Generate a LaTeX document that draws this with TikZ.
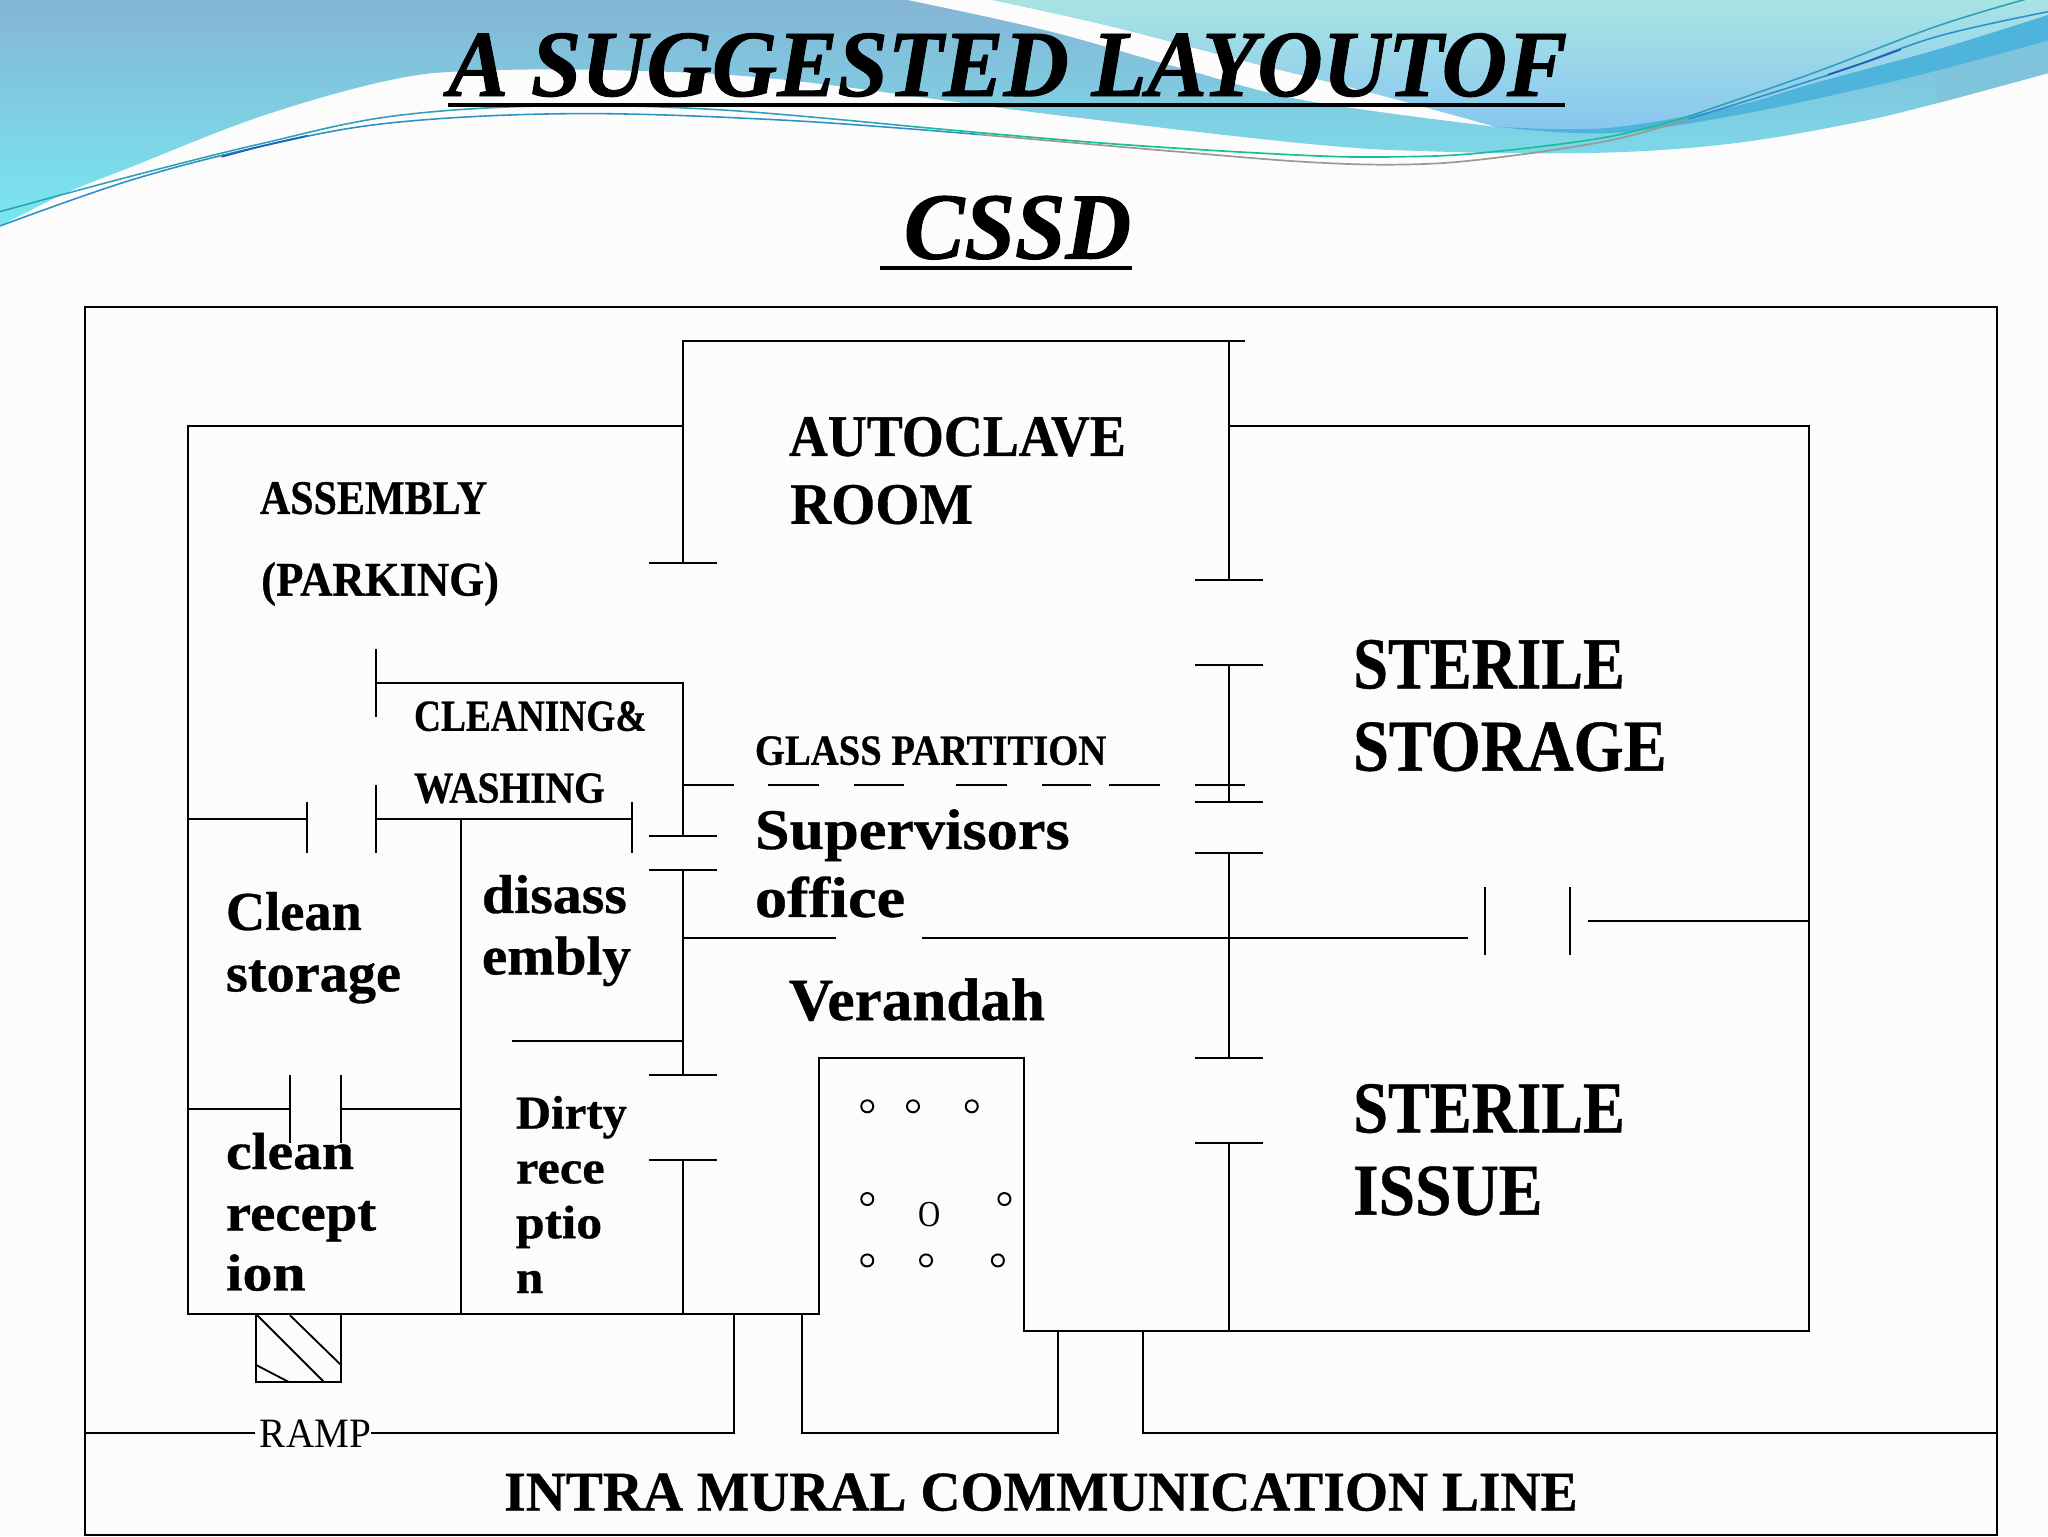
\documentclass[tikz,border=0pt]{standalone}
\usepackage{fontspec}
\usepackage{graphicx}
\setmainfont{Liberation Serif}[BoldFeatures={FakeBold=0.6},BoldItalicFeatures={FakeBold=1.0}]
\newcommand{\fitw}[2]{\resizebox{#1pt}{\height}{#2}}
\tikzset{
  wall/.style={draw=black,line width=1.4pt,line cap=butt},
  lab/.style={anchor=base west,inner sep=0pt,outer sep=0pt,text=black,font=\bfseries\fontsize{#1}{#1}\selectfont},
  plainlab/.style={anchor=base west,inner sep=0pt,outer sep=0pt,text=black,font=\fontsize{#1}{#1}\selectfont},
  ttl/.style={anchor=base west,inner sep=0pt,outer sep=0pt,text=black,font=\bfseries\itshape\fontsize{72.5}{72.5}\selectfont},
  hole/.style={draw=black,line width=1.5pt,fill=none},
  wire/.style={line width=#1,fill=none,line cap=round}
}
\definecolor{paper}{HTML}{FCFCFC}
\definecolor{wavetop}{HTML}{85B5D5}
\definecolor{wavemid}{HTML}{68C4DC}
\definecolor{wavelow}{HTML}{78E8F0}
\definecolor{bluetop}{HTML}{A8E4E4}
\definecolor{bluelow}{HTML}{88C6F0}
\definecolor{under}{HTML}{78D4E4}
\definecolor{underend}{HTML}{7FC4DA}
\definecolor{bandc}{HTML}{4FB4DC}
\definecolor{wireteal}{HTML}{2FA0B8}
\definecolor{wiregreen}{HTML}{18C09A}
\definecolor{wireblue}{HTML}{2F8FC8}
\definecolor{wiredark}{HTML}{1F60B8}
\definecolor{wiregray}{HTML}{9A9A9A}
\begin{document}
\begin{tikzpicture}[x=1pt,y=-1pt]
\useasboundingbox (0,0) rectangle (1568,1176);
\fill[paper] (0,0) rectangle (1568,1176);
% wave, left body
\shade[top color=wavetop,middle color=wavemid,bottom color=wavelow]
  (0,0) -- (0,173) -- plot[smooth,tension=0.6] coordinates {(0,173) (50,148) (100,128) (200,89) (300,61) (370,54) (480,54) (600,61) (800,87) (1000,110) (1100,116) (1224,117) (1325,110) (1420,94) (1483,79) (1568,56)} -- (1568,0) -- cycle;
% white strip
\fill[paper] (695,0) -- plot[smooth,tension=0.6] coordinates {(695,0) (800,23) (900,51) (1000,77) (1145,97)} -- plot[smooth,tension=0.6] coordinates {(1145,97) (1050,71) (950,46) (850,20) (760,0)} -- cycle;
% right body
\shade[top color=bluetop,bottom color=bluelow]
  (760,0) -- plot[smooth,tension=0.6] coordinates {(760,0) (850,20) (950,46) (1050,71) (1145,97)} -- plot[smooth,tension=0.6] coordinates {(1145,97) (1230,98) (1325,82) (1388,64) (1483,38) (1568,11.5)} -- (1568,0) -- cycle;
% under band, right end
\fill[underend] (1568,31) -- (1483,54) -- (1483,79) -- (1568,56) -- cycle;
% band
\fill[bandc] plot[smooth,tension=0.6] coordinates {(1145,97) (1230,98) (1325,82) (1388,64) (1483,38) (1568,11.5)} -- plot[smooth,tension=0.6] coordinates {(1568,31) (1483,54) (1420,69) (1325,89) (1230,102) (1145,97)} -- cycle;
% thin curves
\draw[wire=1.2pt,draw=wireteal] plot[smooth,tension=0.6] coordinates {(0,162) (100,135) (200,110) (300,89) (420,81) (550,84) (700,97)};
\draw[wire=1.3pt,draw=wiregreen] plot[smooth,tension=0.6] coordinates {(700,97) (850,110) (1000,119) (1072,120) (1135,117) (1230,105) (1293,89)};
\draw[wire=1.2pt,draw=wireteal] plot[smooth,tension=0.6] coordinates {(1293,89) (1388,56) (1483,20) (1556,-2)};
\draw[wire=1.2pt,draw=wireblue] plot[smooth,tension=0.6] coordinates {(0,173) (100,138) (200,112) (300,94) (440,87) (600,92) (750,103)};
\draw[wire=1.3pt,draw=wiregray] plot[smooth,tension=0.6] coordinates {(750,103) (900,116) (1000,124) (1072,126) (1135,122) (1230,108) (1293,91)};
\draw[wire=1.2pt,draw=wireblue] plot[smooth,tension=0.6] coordinates {(1293,91) (1404,56) (1483,28) (1568,9)};
\draw[wire=1.3pt,draw=wiredark] plot[smooth,tension=0.6] coordinates {(1400,57) (1430,47) (1455,38)};
\draw[wire=1.3pt,draw=wiredark] plot[smooth,tension=0.6] coordinates {(170,120) (200,112) (235,104)};

% title
\node[ttl] (t1) at (343,73.5) {\fitw{857}{A SUGGESTED LAYOUTOF}};
\fill[black] (343,78.5) rectangle (1198,82);
\node[ttl] (t2) at (692,198) {\fitw{174}{CSSD}};
\fill[black] (674,203.5) rectangle (867,207);

% outer frame
\draw[wall] (65,235) rectangle (1529,1175);
\draw[wall] (65,1097) -- (195,1097);
\draw[wall] (284,1097) -- (562,1097) -- (562,1006);
\draw[wall] (614,1006) -- (614,1097) -- (810,1097) -- (810,1019);
\draw[wall] (875,1019) -- (875,1097) -- (1529,1097);

% main walls
\draw[wall] (523,326) -- (144,326) -- (144,1006) -- (627,1006) -- (627,810) -- (784,810) -- (784,1019) -- (1385,1019) -- (1385,705) -- (1216,705);
\draw[wall] (1385,705) -- (1385,326) -- (941,326);
\draw[wall] (523,431) -- (523,261) -- (953,261);
\draw[wall] (941,261) -- (941,444);
\draw[wall] (497,431) -- (549,431);
\draw[wall] (915,444) -- (967,444);
\draw[wall] (915,509) -- (967,509);
\draw[wall] (941,509) -- (941,614);
\draw[wall] (915,614) -- (967,614);
\draw[wall] (915,653) -- (967,653);
\draw[wall] (941,653) -- (941,810);
\draw[wall] (915,810) -- (967,810);
\draw[wall] (915,875) -- (967,875);
\draw[wall] (941,875) -- (941,1019);
\draw[wall] (523,718) -- (640,718);
\draw[wall] (706,718) -- (1124,718);
\draw[wall] (1137,679) -- (1137,731);
\draw[wall] (1202,679) -- (1202,731);
% glass partition
\foreach \a/\b in {523/562,588/627,653.5/692,732/771,797.4/835.6,849/888,915/953}
  \draw[wall] (\a,601) -- (\b,601);
% left rooms
\draw[wall] (288,497) -- (288,549);
\draw[wall] (288,523) -- (523,523) -- (523,640);
\draw[wall] (497,640) -- (549,640);
\draw[wall] (497,666) -- (549,666);
\draw[wall] (523,666) -- (523,823);
\draw[wall] (497,823) -- (549,823);
\draw[wall] (497,888) -- (549,888);
\draw[wall] (523,888) -- (523,1006);
\draw[wall] (144,627) -- (235,627);
\draw[wall] (235,614) -- (235,653);
\draw[wall] (288,601) -- (288,653);
\draw[wall] (288,627) -- (484,627);
\draw[wall] (484,614) -- (484,653);
\draw[wall] (353,627) -- (353,1006);
\draw[wall] (392,797) -- (523,797);
\draw[wall] (144,849) -- (222,849);
\draw[wall] (222,823) -- (222,875);
\draw[wall] (261,823) -- (261,875);
\draw[wall] (261,849) -- (353,849);
% ramp
\draw[wall] (196,1006) -- (196,1058) -- (261,1058) -- (261,1006);
\draw[wall] (197,1007) -- (248,1058);
\draw[wall] (222,1007) -- (261,1045);
\draw[wall] (196,1045) -- (221,1058);
% columns
\foreach \p/\q in {664/847,699/847,744/847,664/918,769/918,664/965,709/965,764/965}
  \draw[hole] (\p,\q) circle (4.6);
\node[plainlab=28] (col) at (703,939) {\fitw{17}{O}};

% labels
\node[lab=45] (ac1) at (604,349) {\fitw{258}{AUTOCLAVE}};
\node[lab=45] (ac2) at (605,401) {\fitw{140}{ROOM}};
\node[lab=37] (as1) at (199,393.5) {\fitw{174}{ASSEMBLY}};
\node[lab=37] (as2) at (200,456) {\fitw{182}{(PARKING)}};
\node[lab=56] (ss1) at (1036,527) {\fitw{208}{STERILE}};
\node[lab=56] (ss2) at (1036,590) {\fitw{240}{STORAGE}};
\node[lab=56] (si1) at (1036,867) {\fitw{208}{STERILE}};
\node[lab=56] (si2) at (1036,930) {\fitw{145}{ISSUE}};
\node[lab=34] (cw1) at (317,559.5) {\fitw{178}{CLEANING\&}};
\node[lab=34] (cw2) at (317,614.5) {\fitw{146}{WASHING}};
\node[lab=33] (gp) at (578,585.5) {\fitw{269}{GLASS PARTITION}};
\node[lab=44] (so1) at (578,650) {\fitw{241}{Supervisors}};
\node[lab=44] (so2) at (578,702) {\fitw{115}{office}};
\node[lab=46] (ve) at (604,781) {\fitw{196}{Verandah}};
\node[lab=42] (cs1) at (173,712) {\fitw{104}{Clean}};
\node[lab=42] (cs2) at (173,759) {\fitw{134}{storage}};
\node[lab=42] (di1) at (369,699) {\fitw{111}{disass}};
\node[lab=42] (di2) at (369,746) {\fitw{114}{embly}};
\node[lab=36] (dr1) at (395,864) {\fitw{85}{Dirty}};
\node[lab=36] (dr2) at (395,906) {\fitw{68}{rece}};
\node[lab=36] (dr3) at (395,948) {\fitw{66}{ptio}};
\node[lab=36] (dr4) at (395,990) {\fitw{21}{n}};
\node[lab=40] (cr1) at (173,895) {\fitw{98}{clean}};
\node[lab=40] (cr2) at (173,942) {\fitw{115}{recept}};
\node[lab=40] (cr3) at (173,988) {\fitw{61}{ion}};
\node[plainlab=32] (ramp) at (199,1108) {\fitw{85}{RAMP}};
\node[lab=43] (im) at (386,1156.5) {\fitw{822}{INTRA MURAL COMMUNICATION LINE}};
\end{tikzpicture}
\end{document}
